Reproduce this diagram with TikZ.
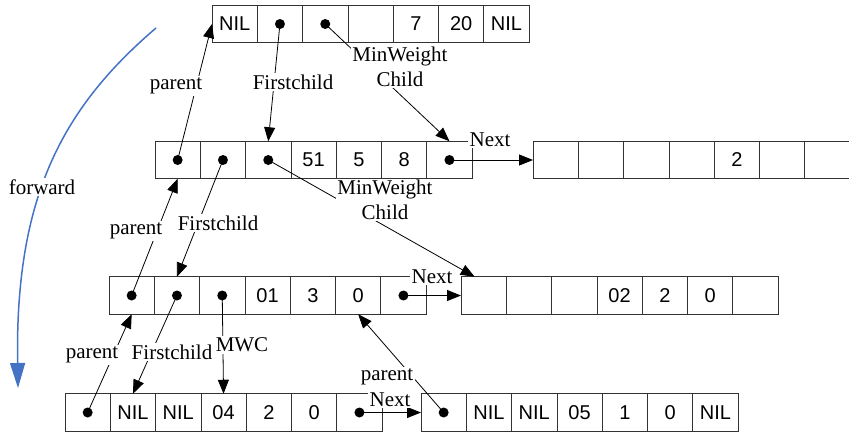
\documentclass[tikz,border=0pt]{standalone}
\usepackage{fontspec}
\setmainfont{Liberation Serif}
\setsansfont{Liberation Sans}
\usetikzlibrary{arrows.meta}
\definecolor{fwdblue}{HTML}{4472C4}

\tikzset{
  cell/.style={draw=black!80, line width=0.8pt, minimum width=45.3pt, minimum height=37.5pt,
    inner sep=0pt, outer sep=0pt, font=\sffamily\fontsize{20}{24}\selectfont},
  lbl/.style={fill=white, inner sep=1.5pt, align=center},
  link/.style={line width=0.8pt, -{Triangle[length=14pt,width=11pt]}},
  fwd/.style={draw=fwdblue, line width=1.5pt, -{Triangle[length=25pt,width=15pt]}},
}

% one node record: name, left x, middle y, the 7 fields
\newcommand\nodelist[4]{%
  \foreach \t [count=\i] in {#4}
    \node[cell] (#1-\i) at ({#2+(\i-0.5)*45.3},#3) {\t};
}

\begin{document}
\begin{tikzpicture}[x=1pt,y=-1pt,font=\fontsize{21}{25}\selectfont]
  \useasboundingbox (0,0) rectangle (849,434);
  % Records, one row per level, siblings to the right.
  \nodelist{n1}{212}{24}{NIL,{},{},{},7,20,NIL}
  \nodelist{n2}{155}{160}{{},{},{},51,5,8,{}}
  \nodelist{s2}{533}{160}{{},{},{},{},2,{},{}}
  \nodelist{n3}{109}{295.5}{{},{},{},01,3,0,{}}
  \nodelist{s3}{461}{295.5}{{},{},{},02,2,0,{}}
  \nodelist{n4}{65}{412.5}{{},NIL,NIL,04,2,0,{}}
  \nodelist{s4}{421}{412.5}{{},NIL,NIL,05,1,0,NIL}
  % Pointer fields.
  \foreach \c in {n1-2,n1-3,n2-1,n2-2,n2-3,n2-7,n3-1,n3-2,n3-3,n3-7,n4-1,n4-7,s4-1}
    \fill (\c.center) circle (5pt);
  % Links between records.
  \draw[link] (n2-1.center) -- (n1-1.west);                % parent
  \draw[link] (n1-2.center) -- (n2-3.north);               % first child
  \draw[link] (n1-3.center) -- (n2-7.north);               % min weight child
  \draw[link] (n2-7.center) -- (s2-1.west);                % next
  \draw[link] (n3-1.center) -- (n2-1.south);
  \draw[link] (n2-2.center) -- (n3-2.north);
  \draw[link] (n2-3.center) -- ([xshift=-9pt]s3-1.north);
  \draw[link] (n3-7.center) -- (s3-1.west);
  \draw[link] (n4-1.center) -- (n3-1.south);
  \draw[link] (n3-2.center) -- (n4-2.north);
  \draw[link] (n3-3.center) -- (n4-4.north);
  \draw[link] (s4-1.center) -- (n3-6.south);
  \draw[link] (n4-7.center) -- (s4-1.west);
  % Link labels (white boxes sit on top of the lines).
  \node[lbl] (par1) at (176,86)  {parent};
  \node[lbl] (fc1)  at (293,82)  {Firstchild};
  \node[lbl] (mwc1) at (400,67)  {MinWeight\\Child};
  \node[lbl] (nx1)  at (490,140) {Next};
  \node[lbl] (par2) at (136,231) {parent};
  \node[lbl] (fc2)  at (218,223) {Firstchild};
  \node[lbl] (mwc2) at (385,200) {MinWeight\\Child};
  \node[lbl] (nx2)  at (432,277) {Next};
  \node[lbl] (par3) at (92,355)  {parent};
  \node[lbl] (fc3)  at (172,352) {Firstchild};
  \node[lbl] (mwc3) at (242,345) {MWC};
  \node[lbl] (par4) at (387,377) {parent};
  \node[lbl] (nx3)  at (390,400) {Next};
  % Direction of the pass.
  \coordinate (fwd0) at (156,28);
  \coordinate (fwd1) at (18,388);
  \draw[fwd] (fwd0) .. controls (60,110) and (15,200) .. (fwd1);
  \node[lbl] (fwdlbl) at (42,187) {forward};
\end{tikzpicture}
\end{document}
